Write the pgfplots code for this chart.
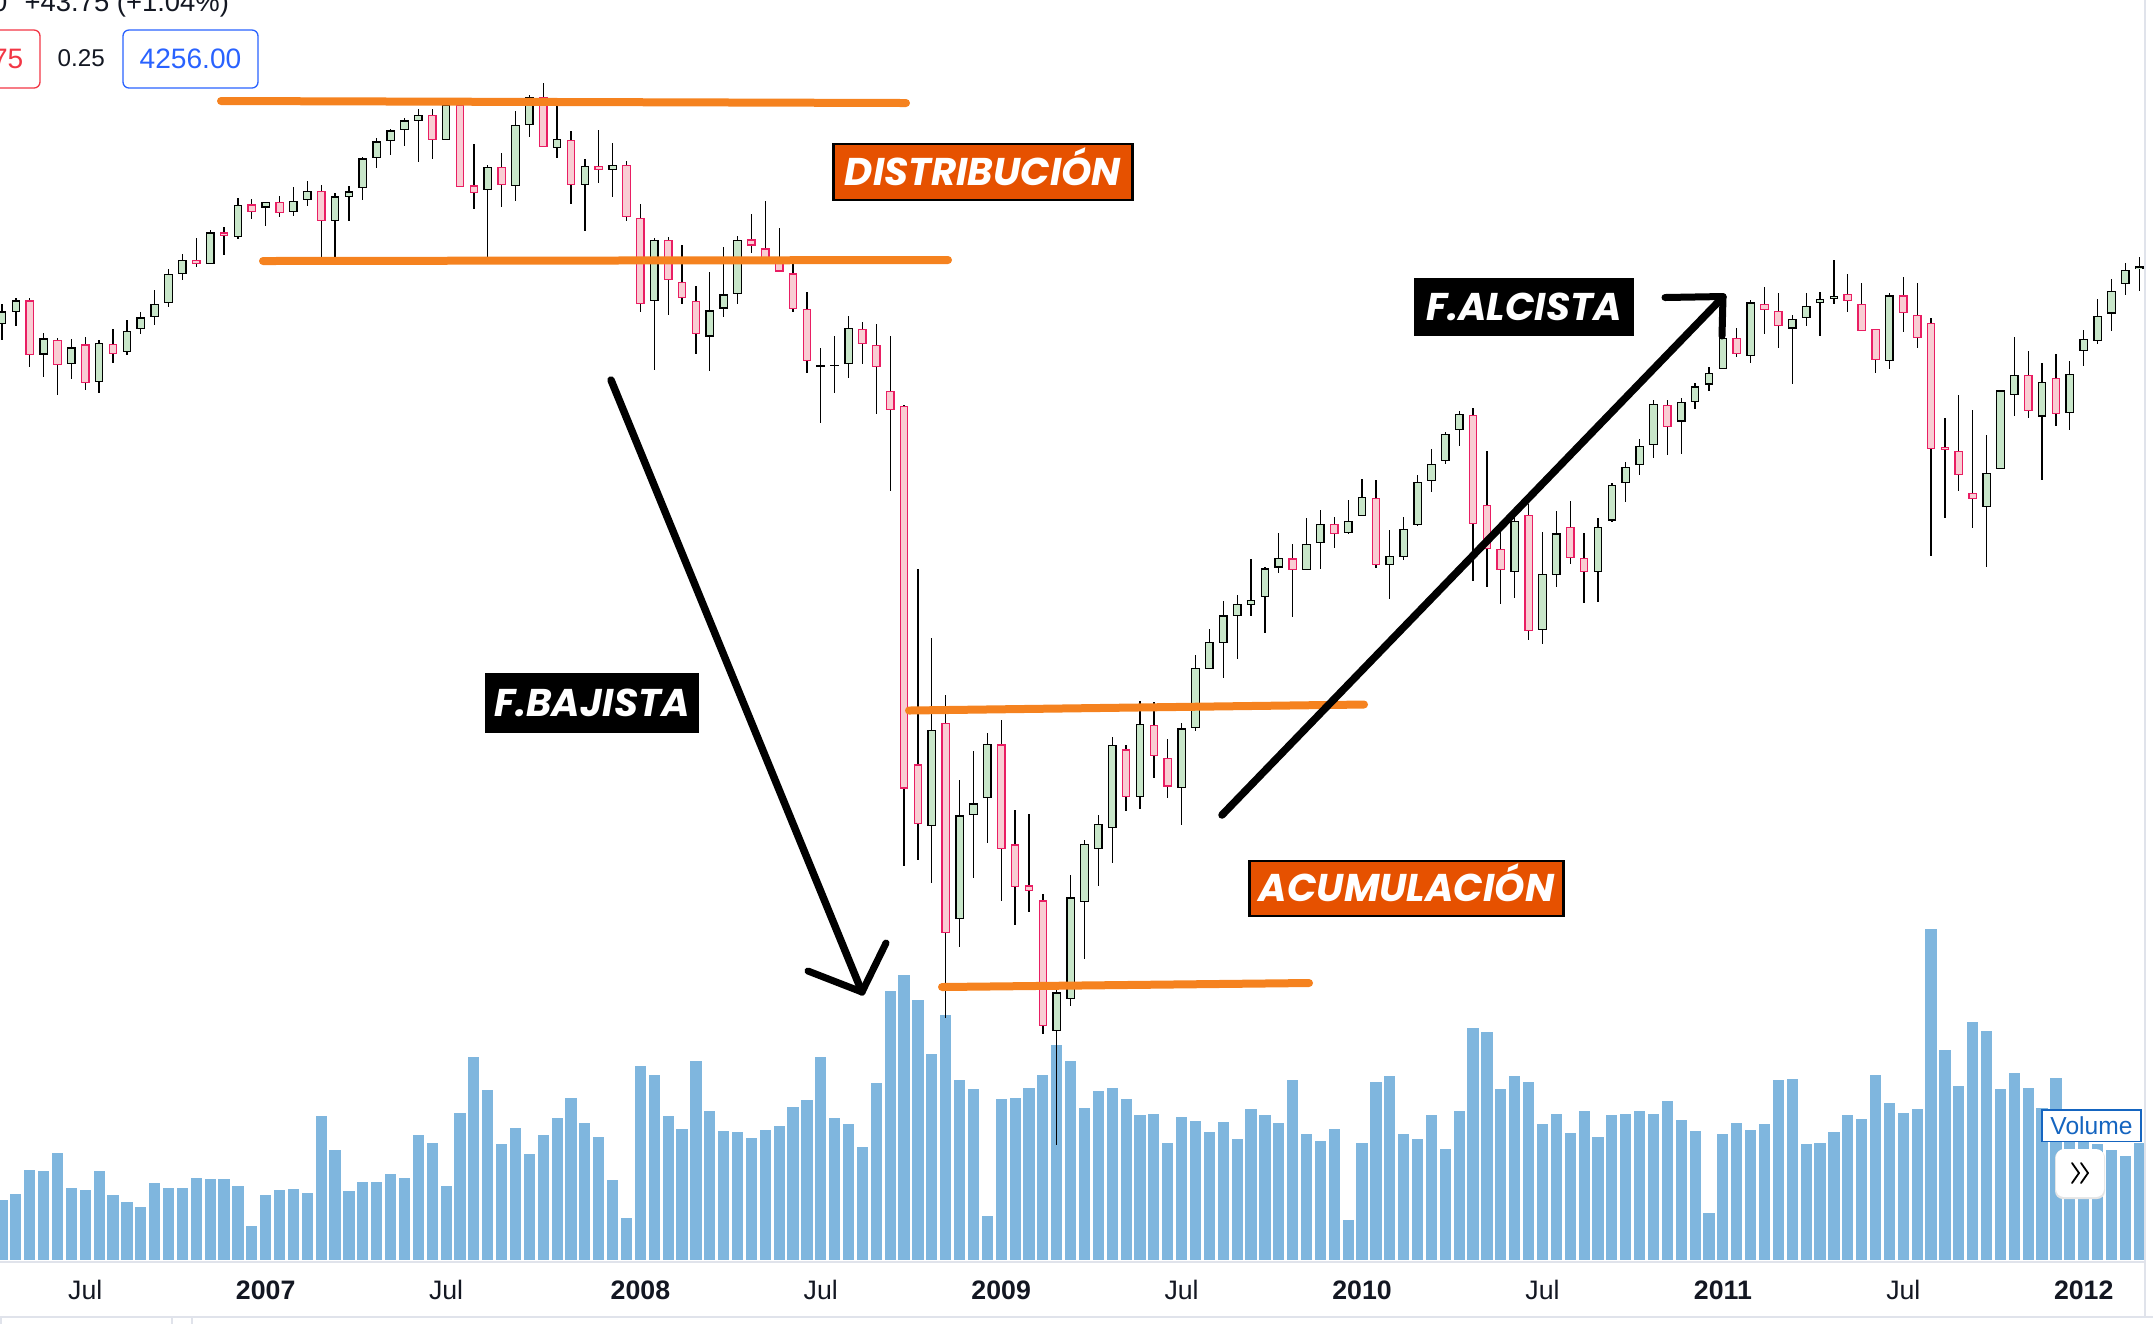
\documentclass[border=0pt]{standalone}
\usepackage{fontspec}
\setmainfont{Liberation Sans}
\newfontfamily\pop{Poppins}
\usepackage{pgfplots}
\pgfplotsset{compat=1.18}
\usepackage{pgfplotstable}

\definecolor{upfill}{HTML}{C8E6C9}
\definecolor{dnfill}{HTML}{F9CDD3}
\definecolor{dnline}{HTML}{E91E63}
\definecolor{volblue}{HTML}{7FB6DE}
\definecolor{trend}{HTML}{F5821F}
\definecolor{boxorange}{HTML}{E65100}
\definecolor{tvblue}{HTML}{2962FF}
\definecolor{tvred}{HTML}{F23645}
\definecolor{tvtext}{HTML}{131722}
\definecolor{sepgray}{HTML}{E0E3EB}
\definecolor{volbox}{HTML}{1565C0}

% two-week candles in pixel rows (y grows downward)
\pgfplotstableread{
k o h l c
0 324 304 339.7 311.3
1 312.3 298 326.3 300.3
2 300.3 298 367 355
3 354.7 333.3 377.3 338.3
4 339.7 338.3 395.3 365
5 364 339 378.7 347.3
6 344.3 337.3 389.7 383
7 382 340.3 393.3 342.7
8 343.7 329 362.7 354
9 352.3 320.3 354.7 330.7
10 329 312.3 333.7 317.3
11 317 290.3 324.7 303.7
12 303.3 269.3 306.7 273.7
13 274 254 279.7 259.7
14 259.7 238 266.7 264.3
15 264.3 230.3 264.3 232.3
16 232.3 227 254.7 236.3
17 237.3 198 238.7 204.7
18 204.3 199.3 218.7 212
19 207.7 201.7 225.7 201.7
20 201.7 196 216.7 213.3
21 212 187 215.7 200.7
22 200 181 205.7 190.7
23 190.7 185.3 263.7 221.3
24 221.3 193.3 258 196.3
25 197 186 220.7 191.3
26 188 157.3 199.7 158.3
27 158 138 167.7 141.3
28 141 129 154.7 130.3
29 130 118 145.7 120.3
30 121 109.3 161.7 114.7
31 114.7 109.3 158.7 140
32 140 100.3 140 104.3
33 104.3 99.3 187 187
34 185.3 144.3 208.7 193.3
35 190 165.3 258.7 166.7
36 166.7 153 207 185.3
37 186.3 111 200.7 124.7
38 125 94.7 136.7 96.7
39 96.7 83 147 147
40 148 105 158 138.7
41 139.7 131 203.7 185.3
42 185 159 230.7 165.7
43 165.7 130 183 170
44 170 143 196.7 164.7
45 164.7 161.3 220.7 217
46 217.7 204 311.7 304
47 301.3 238 369.7 239.7
48 239.7 237.3 314.7 280
49 281.7 245 303.7 298
50 300.9 286.3 353.5 334
51 336.7 271.7 371.4 310.2
52 308.5 246.7 317.2 294.4
53 293.9 236.4 303.7 239.7
54 239.2 213.7 252.7 245.7
55 248.4 201.2 259.7 259.7
56 259.7 227.8 271.7 271.7
57 273.3 261.4 312.3 309.1
58 308.5 292.3 372.5 361.1
59 366 347.6 423.4 366
60 365.4 335.6 392.5 365.4
61 363.8 315.6 378.4 327.5
62 329.1 322.1 364.4 343.8
63 344.8 324.2 413.7 367
64 390.9 335.6 491.2 409.9
65 406.1 404.5 865.7 788.7
66 764.3 568.7 860.3 824.3
67 826.2 638 882.5 729.5
68 722.8 695 1017.5 933.2
69 919 780 946.7 815.3
70 815.3 750.6 878 803.3
71 798.4 733 842.5 743.7
72 744.4 719.9 901 849.4
73 844.2 809.8 924.5 887.3
74 885.2 814 911.7 891.4
75 900.4 893.5 1033.6 1026.4
76 1031.2 986.5 1144.9 992.3
77 999.2 874.9 1005.7 897.3
78 902.4 840.1 958.9 843.5
79 849.1 815 885.6 823.6
80 828 737.1 862.5 744.7
81 749.2 745.1 810.8 797.4
82 797.4 701 808.8 723.7
83 724.7 702 777.8 756.1
84 757.5 739.2 797.8 786.7
85 788.1 723.4 824.6 728.2
86 728.1 655.1 731.2 667.5
87 669.2 629 669.2 641.5
88 643 601 677.7 615.3
89 616 595 658.7 603.7
90 605 559 616.3 599.7
91 597 567 632.7 568.3
92 567.7 533 572.7 557.7
93 558.3 544 616.7 570
94 570 518 570 543.7
95 543.3 510.3 568.7 523.7
96 523.7 517 547.7 534
97 533 500 534.3 520.7
98 516 479 516 496.7
99 497.7 480 568.3 565.3
100 565 530 598.7 555.7
101 557.3 517 560.3 528.7
102 525.3 475 526.3 481.7
103 481 449 491.7 463.7
104 461 432.3 464.3 433.7
105 430 411 445.7 413.7
106 414.7 408 580.7 524
107 504.7 451 586.5 549
108 548.7 532.2 603.5 570
109 572 515 598.3 521
110 514.7 503.7 640.3 631
111 630 532 644.3 573.7
112 575.3 511.3 586.7 533.3
113 526.7 501 564.3 558
114 557.7 533 603.3 572
115 572 518 602.3 526.7
116 520.7 483 522.3 484.7
117 483 462.3 502 466.7
118 465.3 439.3 475 445.7
119 445.3 400.3 457.7 403.7
120 404.7 400.3 454.7 427
121 421.7 398 453.7 402
122 402 383 408.7 386.3
123 384.7 367.3 391 372.7
124 369 336 369 337.7
125 337.7 328 357.3 354.3
126 356 300.3 362.7 302.3
127 303.7 287 333.7 310
128 310.7 293 347.7 326
129 328.7 314.7 383.7 318.7
130 318 293 326.3 306
131 302.8 292.2 335.5 298.8
132 299 260.3 303.7 295.7
133 293.7 274.3 311.7 301
134 303.7 283.3 331 331
135 328.7 328.7 372.7 360
136 361 293.3 368.7 295.3
137 295.3 277.3 331.7 313
138 314.7 283.3 347.7 338
139 322.7 318.3 556.3 449
140 446.7 418.3 518.3 450
141 450.7 395.3 491.3 475
142 492.7 410.3 528.3 499
143 507 435.3 567.3 472.7
144 469 389.7 469 390.3
145 395 337.3 415.7 374.7
146 374.7 351.3 417.7 411
147 416.7 363.3 479.7 381.7
148 377.7 354.3 426.3 414
149 413 361.3 429.7 373.7
150 351 330.3 365.7 338.7
151 341 299.3 344.3 315.7
152 313.7 279.3 330.7 290.7
153 284 263 294.7 269.7
154 269 257.3 290.7 266.3
}\candles

% volume: pixel row of each bar top, bars stand on row 1260
\pgfplotstableread{
k v
0 1200
1 1194
2 1170
3 1171
4 1153
5 1188
6 1190
7 1171
8 1195
9 1202
10 1207
11 1183
12 1188
13 1188
14 1178
15 1179
16 1179
17 1186
18 1226
19 1195
20 1190
21 1189
22 1193
23 1116
24 1150
25 1191
26 1182
27 1182
28 1174
29 1178
30 1135
31 1143
32 1186
33 1113
34 1057
35 1090
36 1144
37 1128
38 1154
39 1135
40 1118
41 1098
42 1123
43 1137
44 1180
45 1218
46 1066
47 1075
48 1116
49 1129
50 1061
51 1111
52 1131
53 1132
54 1138
55 1130
56 1126
57 1107
58 1100
59 1057
60 1118
61 1124
62 1147
63 1083
64 991
65 975
66 1000
67 1054
68 1015
69 1080
70 1089
71 1216
72 1099
73 1098
74 1088
75 1075
76 1045
77 1061
78 1108
79 1091
80 1088
81 1099
82 1115
83 1114
84 1143
85 1117
86 1121
87 1132
88 1122
89 1139
90 1109
91 1115
92 1123
93 1080
94 1134
95 1141
96 1129
97 1220
98 1143
99 1082
100 1076
101 1134
102 1139
103 1115
104 1149
105 1111
106 1028
107 1032
108 1089
109 1076
110 1082
111 1124
112 1114
113 1133
114 1111
115 1137
116 1115
117 1114
118 1111
119 1114
120 1101
121 1120
122 1131
123 1213
124 1134
125 1123
126 1130
127 1124
128 1080
129 1079
130 1144
131 1143
132 1132
133 1115
134 1119
135 1075
136 1103
137 1113
138 1109
139 929
140 1050
141 1086
142 1022
143 1031
144 1089
145 1073
146 1088
147 1108
148 1078
149 1130
150 1135
151 1144
152 1150
153 1156
154 1143
}\volume

\pgfplotsset{
  up only/.style={restrict expr to domain={\thisrow{c}-\thisrow{o}}{-5000:0}},
  down only/.style={restrict expr to domain={\thisrow{c}-\thisrow{o}}{0.01:5000}},
  bar col/.style 2 args={only marks, mark=*, mark size=0pt, mark options={opacity=0}, forget plot,
    error bars/y dir=both, error bars/y explicit, error bars/error mark=none,
    error bars/error bar style={draw=#1, line width=#2, line cap=butt, opacity=1}},
}
\tikzset{
  tick lab/.style={anchor=base, inner sep=0pt, text=tvtext,
    font=\fontsize{7.6}{9}\selectfont},
  tag/.style={inner sep=0pt, text=white, text height=7.6pt, text depth=0pt,
    font=\pop\bfseries\itshape\fontsize{11}{13}\selectfont},
}

\begin{document}
\begin{tikzpicture}
\begin{axis}[
  scale only axis, width=215.3mm, height=132.4mm,
  xmin=0, xmax=2153, ymin=0, ymax=1324, y dir=reverse,
  hide axis, clip=true,
]
% volume pane
\addplot[bar col={volblue}{1.12mm}] table[x expr={2+13.878*\thisrow{k}},
  y expr={(\thisrow{v}+1260)/2}, y error expr={(1260-\thisrow{v})/2}] {\volume};
% wicks
\addplot[bar col={black}{0.13mm}] table[x expr={2+13.878*\thisrow{k}},
  y expr={(\thisrow{h}+\thisrow{l})/2}, y error expr={(\thisrow{l}-\thisrow{h})/2}] {\candles};
% falling bodies
\addplot[down only, bar col={dnline}{0.87mm}] table[x expr={2+13.878*\thisrow{k}},
  y expr={(\thisrow{o}+\thisrow{c})/2}, y error expr={max(abs(\thisrow{c}-\thisrow{o})/2,0.7)}] {\candles};
\addplot[down only, bar col={dnfill}{0.61mm}] table[x expr={2+13.878*\thisrow{k}},
  y expr={(\thisrow{o}+\thisrow{c})/2}, y error expr={max(abs(\thisrow{c}-\thisrow{o})/2-1.3,0)}] {\candles};
% rising bodies
\addplot[up only, bar col={black}{0.87mm}] table[x expr={2+13.878*\thisrow{k}},
  y expr={(\thisrow{o}+\thisrow{c})/2}, y error expr={max(abs(\thisrow{c}-\thisrow{o})/2,0.7)}] {\candles};
\addplot[up only, bar col={upfill}{0.61mm}] table[x expr={2+13.878*\thisrow{k}},
  y expr={(\thisrow{o}+\thisrow{c})/2}, y error expr={max(abs(\thisrow{c}-\thisrow{o})/2-1.3,0)}] {\candles};

% pane separators
\draw[sepgray, line width=0.2mm] (axis cs:0,1262) -- (axis cs:2146,1262);
\draw[sepgray, line width=0.2mm] (axis cs:0,1317) -- (axis cs:2153,1317);
\draw[sepgray, line width=0.2mm] (axis cs:2145,0) -- (axis cs:2145,1317);
\draw[sepgray, line width=0.15mm] (axis cs:1,1317) -- (axis cs:1,1324);
\draw[sepgray, line width=0.15mm] (axis cs:172,1317) -- (axis cs:172,1324);
\draw[sepgray, line width=0.15mm] (axis cs:192,1317) -- (axis cs:192,1324);

% time axis labels
\node[tick lab] at (axis cs:85.3,1299) {Jul};
\node[tick lab] at (axis cs:265.7,1299) {\textbf{2007}};
\node[tick lab] at (axis cs:446.1,1299) {Jul};
\node[tick lab] at (axis cs:640.4,1299) {\textbf{2008}};
\node[tick lab] at (axis cs:820.8,1299) {Jul};
\node[tick lab] at (axis cs:1001.2,1299) {\textbf{2009}};
\node[tick lab] at (axis cs:1181.6,1299) {Jul};
\node[tick lab] at (axis cs:1362.0,1299) {\textbf{2010}};
\node[tick lab] at (axis cs:1542.5,1299) {Jul};
\node[tick lab] at (axis cs:1722.9,1299) {\textbf{2011}};
\node[tick lab] at (axis cs:1903.3,1299) {Jul};
\node[tick lab] at (axis cs:2083.7,1299) {\textbf{2012}};

% hand-drawn levels
\draw[trend, line width=0.8mm, line cap=round] (axis cs:221,101) -- (axis cs:906,103);
\draw[trend, line width=0.8mm, line cap=round] (axis cs:263,261) -- (axis cs:948,260);
\draw[trend, line width=0.8mm, line cap=round] (axis cs:909,710.5) -- (axis cs:1364,704.5);
\draw[trend, line width=0.8mm, line cap=round] (axis cs:942,987) -- (axis cs:1309,983);

% arrows
\draw[black, line width=0.75mm, line cap=round, line join=round]
  (axis cs:611,380) -- (axis cs:862,992);
\draw[black, line width=0.7mm, line cap=round, line join=round]
  (axis cs:808,971) -- (axis cs:862,992) -- (axis cs:886,943);
\draw[black, line width=0.75mm, line cap=round, line join=round]
  (axis cs:1222,815) -- (axis cs:1723,297);
\draw[black, line width=0.7mm, line cap=round, line join=round]
  (axis cs:1665,297.5) -- (axis cs:1723,296.5) -- (axis cs:1722,336);

% phase tags
\node[tag, fill=boxorange, draw=black, line width=0.23mm, minimum width=29.9mm,
  minimum height=5.57mm] at (axis cs:983,172) {DISTRIBUCIÓN};
\node[tag, fill=black, minimum width=22mm, minimum height=5.8mm]
  at (axis cs:1524,307) {F.ALCISTA};
\node[tag, fill=black, minimum width=21.4mm, minimum height=6mm]
  at (axis cs:592,703) {F.BAJISTA};
\node[tag, fill=boxorange, draw=black, line width=0.23mm, minimum width=31.4mm,
  minimum height=5.47mm] at (axis cs:1406.5,888.5) {ACUMULACIÓN};

% header remnants
\node[anchor=base east, inner sep=0pt, text=tvtext, font=\fontsize{7.8}{9}\selectfont]
  at (axis cs:8,11.7) {4256.00};
\node[anchor=base west, inner sep=0pt, text=tvtext, font=\fontsize{7.8}{9}\selectfont]
  at (axis cs:24,11.7) {+43.75 (+1.04\%)};
\draw[tvred, line width=0.13mm, rounded corners=0.6mm] (axis cs:-40,30) rectangle (axis cs:40,88);
\node[anchor=base east, inner sep=0pt, text=tvred, font=\fontsize{8}{9}\selectfont]
  at (axis cs:24,68.3) {4212.75};
\node[anchor=base west, inner sep=0pt, text=tvtext, font=\fontsize{6.9}{8}\selectfont]
  at (axis cs:57,66.7) {0.25};
\draw[tvblue, line width=0.13mm, rounded corners=0.6mm] (axis cs:123,30) rectangle (axis cs:258,88);
\node[anchor=base, inner sep=0pt, text=tvblue, font=\fontsize{8}{9}\selectfont]
  at (axis cs:190.5,68.3) {4256.00};

% volume legend and scroll button
\node[draw=volbox, fill=white, line width=0.15mm, minimum width=9.9mm, minimum height=3.15mm,
  inner sep=0pt, text=volbox, font=\fontsize{7}{8}\selectfont] at (axis cs:2091.5,1125.5) {Volume};
\fill[black!10, rounded corners=0.8mm] (axis cs:2055,1150) rectangle (axis cs:2105,1199);
\fill[white, rounded corners=0.8mm] (axis cs:2056,1149) rectangle (axis cs:2104,1197);
\draw[black, line width=0.18mm, line cap=round, line join=round]
  (axis cs:2072,1163) -- (axis cs:2079,1173) -- (axis cs:2072,1183);
\draw[black, line width=0.18mm, line cap=round, line join=round]
  (axis cs:2081,1163) -- (axis cs:2088,1173) -- (axis cs:2081,1183);
\end{axis}
\pgfresetboundingbox
\path[use as bounding box] (current axis.south west) rectangle (current axis.north east);
\end{tikzpicture}
\end{document}
